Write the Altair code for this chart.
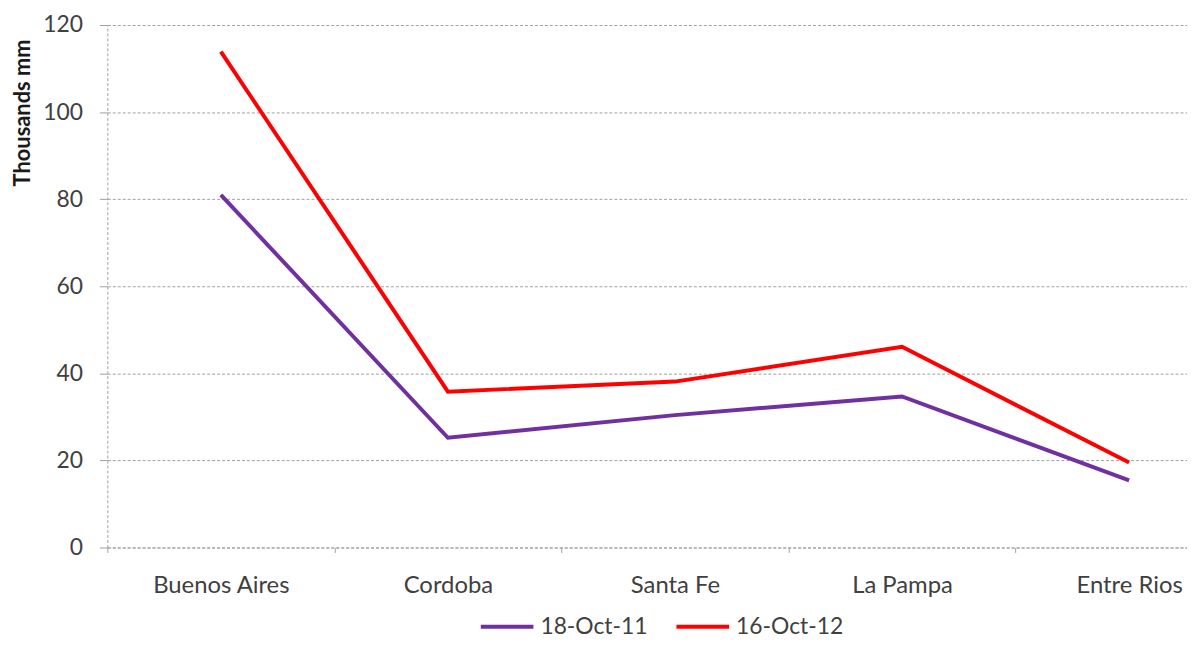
import altair as alt
import pandas as pd

provinces = ["Buenos Aires", "Cordoba", "Santa Fe", "La Pampa", "Entre Rios"]
series_names = ["18-Oct-11", "16-Oct-12"]
oct11 = [81.0, 25.2, 30.4, 34.7, 15.4]
oct12 = [113.9, 35.8, 38.1, 46.1, 19.5]
colors = ["#7030A0", "#FF0000"]
y_ticks = [0, 20, 40, 60, 80, 100, 120]

rows = []
for name, vals in zip(series_names, [oct11, oct12]):
    for p, v in zip(provinces, vals):
        rows.append({"province": p, "series": name, "value": v})
df = pd.DataFrame(rows)

FONT = "Lato"
GRID = "#a0a0a0"
TEXT = "#404040"

chart = alt.Chart(df).mark_line(strokeWidth=4).encode(
    x=alt.X(
        "province:N",
        sort=provinces,
        bandPosition=0.5,
        scale=alt.Scale(type="band", range=[0, 1143], paddingInner=0, paddingOuter=0),
        axis=alt.Axis(
            title=None, labelAngle=0, tickBand="extent", grid=False,
            domainColor=GRID, domainDash=[3, 2], domainWidth=1,
            tickColor=GRID, tickSize=5, tickWidth=1,
            labelFont=FONT, labelFontSize=24, labelColor=TEXT, labelPadding=21,
        ),
    ),
    y=alt.Y(
        "value:Q",
        scale=alt.Scale(domain=[0, 120], nice=False),
        axis=alt.Axis(
            values=y_ticks, title="Thousands mm",
            titleFont=FONT, titleFontSize=22, titleFontWeight="bold", titleColor="#1a1a1a",
            titleAngle=270, titleX=-85, titleY=88, titleAlign="center", titleBaseline="middle",
            grid=True, gridColor=GRID, gridDash=[3, 2], gridWidth=1,
            domainColor=GRID, domainDash=[3, 2], domainWidth=1,
            tickColor=GRID, tickSize=8, tickWidth=1,
            labelFont=FONT, labelFontSize=23, labelColor=TEXT, labelPadding=17,
        ),
    ),
    color=alt.Color(
        "series:N",
        sort=series_names,
        scale=alt.Scale(domain=series_names, range=colors),
        legend=alt.Legend(
            title=None, orient="none", direction="horizontal",
            legendX=374, legendY=577,
            symbolType="stroke", symbolSize=2809, symbolStrokeWidth=4,
            labelFont=FONT, labelFontSize=23, labelColor=TEXT,
            labelOffset=5, columnPadding=21,
        ),
    ),
).properties(
    width=1087, height=526,
    autosize=alt.AutoSizeParams(type="none"),
    padding={"left": 100, "top": 15, "right": 0, "bottom": 92},
).configure_view(stroke=None)

chart.save("out.html", embed_options={"renderer": "svg", "actions": False})
